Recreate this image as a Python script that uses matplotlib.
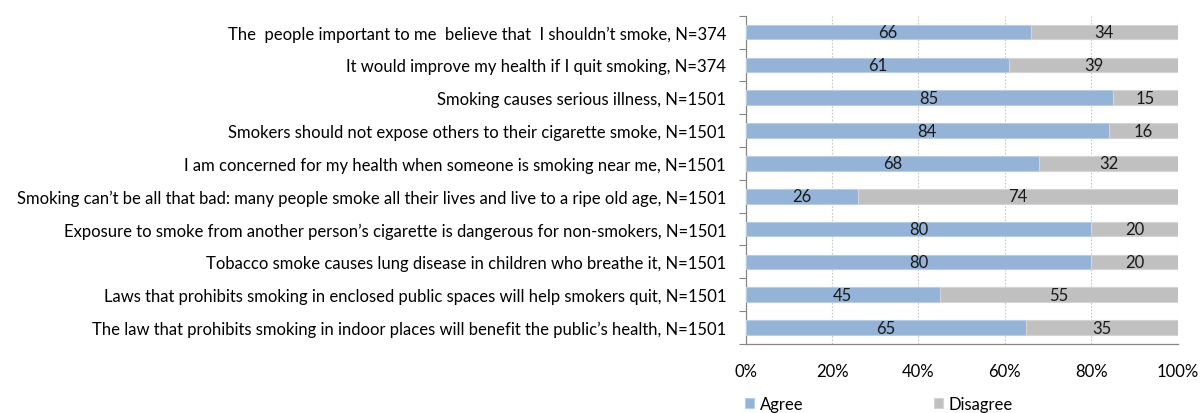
import matplotlib
matplotlib.use("Agg")
import matplotlib.pyplot as plt
from matplotlib.ticker import MultipleLocator, FuncFormatter

statements = [
    "The  people important to me  believe that  I shouldn\u2019t smoke, N=374",
    "It would improve my health if I quit smoking, N=374",
    "Smoking causes serious illness, N=1501",
    "Smokers should not expose others to their cigarette smoke, N=1501",
    "I am concerned for my health when someone is smoking near me, N=1501",
    "Smoking can\u2019t be all that bad: many people smoke all their lives and live to a ripe old age, N=1501",
    "Exposure to smoke from another person\u2019s cigarette is dangerous for non-smokers, N=1501",
    "Tobacco smoke causes lung disease in children who breathe it, N=1501",
    "Laws that prohibits smoking in enclosed public spaces will help smokers quit, N=1501",
    "The law that prohibits smoking in indoor places will benefit the public\u2019s health, N=1501",
]
agree = [66, 61, 85, 84, 68, 26, 80, 80, 45, 65]
disagree = [34, 39, 15, 16, 32, 74, 20, 20, 55, 35]
series_names = ["Agree", "Disagree"]
series_colors = ["#95B3D7", "#C0C0C0"]

plt.rcParams["font.family"] = ["Lato", "DejaVu Sans"]
FS = 12.0

fig = plt.figure(figsize=(12, 4.14), dpi=100)
ax = fig.add_axes([0.6214, 0.1667, 0.9814 - 0.6214, 0.9597 - 0.1667])

n = len(statements)
ypos = list(range(n))
bar_h = 0.45

b1 = ax.barh(ypos, agree, height=bar_h, color=series_colors[0],
             edgecolor="#B9CDE5", linewidth=0.8, label=series_names[0], zorder=3)
b2 = ax.barh(ypos, disagree, left=agree, height=bar_h, color=series_colors[1],
             edgecolor="#D4D4D4", linewidth=0.8, label=series_names[1], zorder=3)

for y, a, d in zip(ypos, agree, disagree):
    ax.text(a / 2, y, f"{a}", ha="center", va="center", fontsize=FS,
            color="#1a1a1a", zorder=4)
    ax.text(a + d / 2, y, f"{d}", ha="center", va="center", fontsize=FS,
            color="#1a1a1a", zorder=4)

ax.set_xlim(0, 100)
ax.set_ylim(n - 0.5, -0.5)
ax.xaxis.set_major_locator(MultipleLocator(20))
ax.xaxis.set_major_formatter(FuncFormatter(lambda v, p: f"{int(v)}%"))
ax.grid(axis="x", color="#C8C8C8", linestyle=(0, (1.5, 1.5)), linewidth=0.8, zorder=0)

ax.set_yticks(ypos)
ax.set_yticklabels(statements, fontsize=FS)
ax.set_yticks([i + 0.5 for i in range(-1, n)], minor=True)
ax.tick_params(axis="y", which="major", length=0, pad=14)
ax.tick_params(axis="y", which="minor", length=5, color="#868686", width=0.8)
ax.tick_params(axis="x", which="major", length=0, pad=14, labelsize=FS)

for side in ["top", "right"]:
    ax.spines[side].set_visible(False)
for side in ["left", "bottom"]:
    ax.spines[side].set_color("#868686")
    ax.spines[side].set_linewidth(0.9)

fig.legend(handles=[b1, b2], labels=series_names, loc="center left",
           bbox_to_anchor=(0.621, 0.022), ncol=2, frameon=False, fontsize=FS,
           handlelength=0.55, handleheight=0.55, handletextpad=0.35,
           columnspacing=7.8, borderpad=0, borderaxespad=0)

fig.savefig("out.png", dpi=100)
